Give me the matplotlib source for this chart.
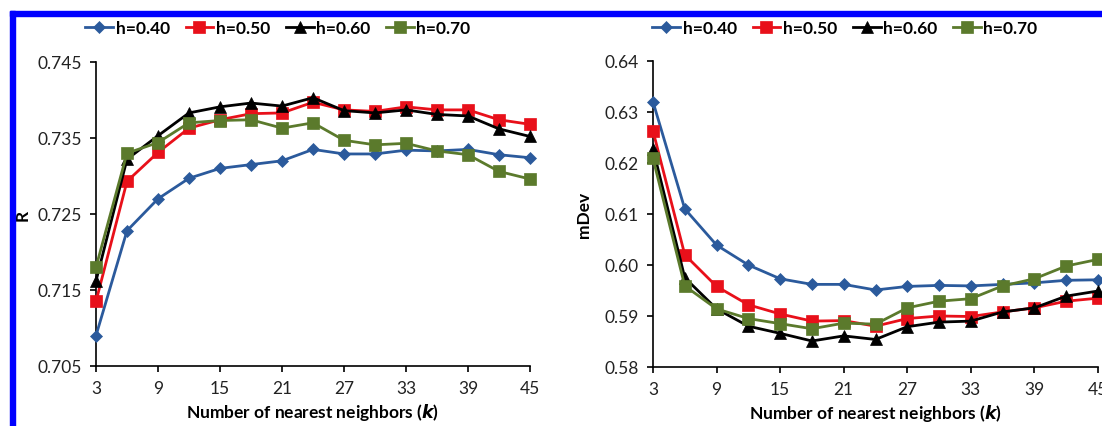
import matplotlib
matplotlib.use("Agg")
import matplotlib.pyplot as plt
from matplotlib.patches import Rectangle

plt.rcParams['font.family'] = ['Lato', 'DejaVu Sans']

k = [3, 6, 9, 12, 15, 18, 21, 24, 27, 30, 33, 36, 39, 42, 45]
labels = ["h=0.40", "h=0.50", "h=0.60", "h=0.70"]

# R values
r_040 = [0.7090, 0.7228, 0.7270, 0.7297, 0.7310, 0.7315, 0.7320, 0.7335,
         0.7329, 0.7329, 0.7334, 0.7333, 0.7335, 0.7328, 0.7324]
r_050 = [0.7135, 0.7293, 0.7331, 0.7363, 0.7374, 0.7382, 0.7383, 0.7397,
         0.7387, 0.7385, 0.7391, 0.7387, 0.7387, 0.7374, 0.7368]
r_060 = [0.7162, 0.7322, 0.7353, 0.7383, 0.7391, 0.7396, 0.7392, 0.7403,
         0.7386, 0.7383, 0.7387, 0.7381, 0.7379, 0.7362, 0.7352]
r_070 = [0.7180, 0.7330, 0.7344, 0.7370, 0.7373, 0.7374, 0.7363, 0.7370,
         0.7347, 0.7341, 0.7343, 0.7333, 0.7328, 0.7306, 0.7296]

# mDev values
m_040 = [0.6320, 0.6110, 0.6039, 0.6000, 0.5973, 0.5962, 0.5962, 0.5951,
         0.5958, 0.5960, 0.5959, 0.5962, 0.5965, 0.5970, 0.5971]
m_050 = [0.6263, 0.6020, 0.5958, 0.5922, 0.5904, 0.5890, 0.5891, 0.5880,
         0.5895, 0.5900, 0.5899, 0.5908, 0.5916, 0.5929, 0.5935]
m_060 = [0.6228, 0.5975, 0.5914, 0.5880, 0.5866, 0.5851, 0.5861, 0.5854,
         0.5879, 0.5888, 0.5890, 0.5908, 0.5916, 0.5939, 0.5949]
m_070 = [0.6209, 0.5959, 0.5914, 0.5895, 0.5885, 0.5875, 0.5886, 0.5884,
         0.5916, 0.5929, 0.5934, 0.5959, 0.5973, 0.5998, 0.6011]

styles = [
    dict(color='#2b5a9c', marker='D', markersize=6),
    dict(color='#e8101a', marker='s', markersize=8),
    dict(color='#000000', marker='^', markersize=8),
    dict(color='#5b7a2c', marker='s', markersize=9),
]

W, H = 1102, 427
fig = plt.figure(figsize=(W / 100, H / 100), dpi=100)

def px_axes(x0, x1, ytop, ybot):
    return fig.add_axes([x0 / W, 1 - ybot / H, (x1 - x0) / W, (ybot - ytop) / H])

ax1 = px_axes(96, 530, 63, 367)
ax2 = px_axes(653, 1098, 62, 368)

def draw(ax, series, ylim, yticks, yfmt, ylabel, ylab_x, leg_cx):
    handles = []
    for s, lab, st in zip(series, labels, styles):
        h, = ax.plot(k, s, linewidth=2, clip_on=False, zorder=3, label=lab,
                     markeredgewidth=0.5, **st)
        handles.append(h)
    ax.set_xlim(3, 45)
    ax.set_xticks(range(3, 46, 6))
    ax.set_ylim(*ylim)
    ax.set_yticks(yticks)
    ax.set_yticklabels([yfmt % v for v in yticks])
    for side in ['top', 'right']:
        ax.spines[side].set_visible(False)
    for side in ['left', 'bottom']:
        ax.spines[side].set_linewidth(1.2)
    ax.tick_params(direction='out', length=4, width=1.2, labelsize=12.5,
                   colors='black', labelcolor='#222222', pad=6)
    ax.set_ylabel(ylabel, fontsize=12.5, fontweight='bold')
    ax.yaxis.set_label_coords(ylab_x, 0.5)
    ax.set_xlabel("Number of nearest neighbors ($\\boldsymbol{k}$)", fontsize=12.5,
                  fontweight='bold')
    ax.xaxis.set_label_coords(0.5, -0.115)
    fig.legend(handles=handles, loc='center', bbox_to_anchor=(leg_cx / W, 1 - 29 / H),
               ncol=4, frameon=False, handlelength=1.6, handletextpad=0.15,
               columnspacing=0.9, prop=dict(size=12.5, weight='bold'))

draw(ax1, [r_040, r_050, r_060, r_070], (0.705, 0.745),
     [0.705, 0.715, 0.725, 0.735, 0.745], "%.3f", "R", -0.15, 278)
draw(ax2, [m_040, m_050, m_060, m_070], (0.58, 0.64),
     [0.58, 0.59, 0.60, 0.61, 0.62, 0.63, 0.64], "%.2f", "mDev", -0.137, 845)

# blue frame of the screenshot
fig.patches.append(Rectangle((10 / W, 0), 5 / W, 1 - 12 / H, transform=fig.transFigure,
                             color='#0000ff', zorder=10))
fig.patches.append(Rectangle((10 / W, 1 - 17 / H), 1 - 10 / W, 5 / H,
                             transform=fig.transFigure, color='#0000ff', zorder=10))

fig.savefig("out.png", dpi=100)
